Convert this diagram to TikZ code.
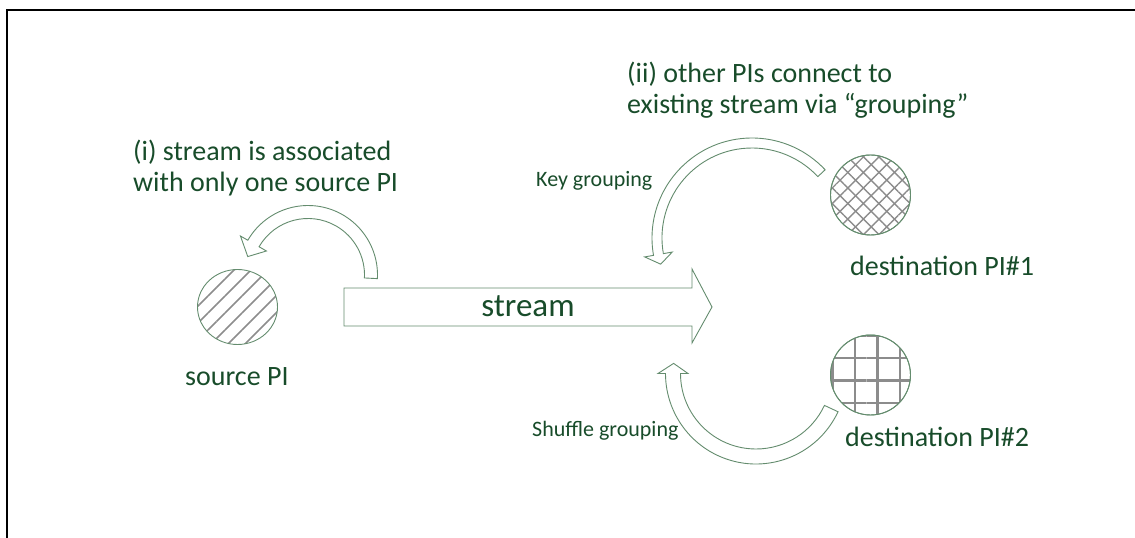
\documentclass[tikz,border=0pt]{standalone}
\usepackage{fontspec}
\setmainfont{Carlito}
\usetikzlibrary{patterns.meta,shapes.geometric}
\definecolor{txtgreen}{RGB}{24,76,42}
\definecolor{linegreen}{RGB}{100,140,110}
\definecolor{hatch}{RGB}{140,140,140}
\newcommand{\blockarc}[8]{%
  \draw[blockarrow] ([shift={(#1,#2)}]#5:{#3+#4/2}) arc[start angle=#5, end angle=#6, radius={#3+#4/2}]
   -- ([shift={(#1,#2)}]#6:{#3+#7}) -- ([shift={(#1,#2)}]#8:#3) -- ([shift={(#1,#2)}]#6:{#3-#7})
   -- ([shift={(#1,#2)}]#6:{#3-#4/2}) arc[start angle=#6, end angle=#5, radius={#3-#4/2}] -- cycle;}
\tikzset{
  blockarrow/.style={draw=linegreen, line width=0.9pt, fill=white, line join=miter},
  txt/.style={text=txtgreen, inner sep=0pt, font=\fontsize{28}{31}\selectfont, align=left},
  small/.style={text=txtgreen, inner sep=0pt, font=\fontsize{22}{26}\selectfont},
  pinode/.style={draw=linegreen, line width=0.9pt, inner sep=0pt},
}
\begin{document}
\begin{tikzpicture}[x=1pt,y=1pt]
\useasboundingbox (0,0) rectangle (1135,538);
% frame
\draw[line width=2pt, black] (7,0) -- (7,527.5) -- (1135,527.5);
% stream arrow
\draw[blockarrow] (344,250) -- (692,250) -- (692,269) -- (712,231) -- (692,195) -- (692,212) -- (344,212) -- cycle;
\node[text=txtgreen, inner sep=0pt, font=\fontsize{33}{38}\selectfont, anchor=base] (stream) at (528,221) {stream};
% circles
\node[pinode, ellipse, minimum width=80pt, minimum height=75pt,
      pattern={Lines[angle=45,distance=12pt,line width=1.6pt]}, pattern color=hatch] (src) at (237.5,231) {};
\node[pinode, circle, minimum size=80pt,
      pattern={Lines[angle=45,distance=11pt,line width=1.4pt]}, pattern color=hatch,
      postaction={pattern={Lines[angle=-45,distance=11pt,line width=1.4pt]}, pattern color=hatch}] (d1) at (870.5,343) {};
\node[pinode, circle, minimum size=80pt,
      pattern={Lines[angle=0,distance=22.5pt,line width=2.6pt]}, pattern color=hatch,
      postaction={pattern={Lines[angle=90,distance=22.5pt,line width=2.6pt]}, pattern color=hatch}] (d2) at (870.5,163) {};
\draw[linegreen, line width=0.9pt] (d1) circle[radius=40];
\draw[linegreen, line width=0.9pt] (d2) circle[radius=40];
% curved arrows
\blockarc{308}{263}{63}{13}{-3}{150}{15}{163}
\blockarc{752}{300}{95}{10}{43}{190}{14}{196}
\blockarc{756}{164.5}{83}{15}{-25}{-180}{15}{-187}
% texts
\node[txt, anchor=base west] (lab1) at (133,346) {(i) stream is associated\\with only one source PI};
\node[txt, anchor=base west] (lab2) at (627,424) {(ii) other PIs connect to\\existing stream via “grouping”};
\node[small, anchor=base west] (kg) at (536,351) {Key grouping};
\node[small, anchor=base west] (sg) at (532,101) {Shuffle grouping};
\node[txt, anchor=base west] (d1l) at (850,262) {destination PI\#1};
\node[txt, anchor=base west] (d2l) at (845,91) {destination PI\#2};
\node[txt, anchor=base west] (srcl) at (185,152) {source PI};
\end{tikzpicture}
\end{document}
